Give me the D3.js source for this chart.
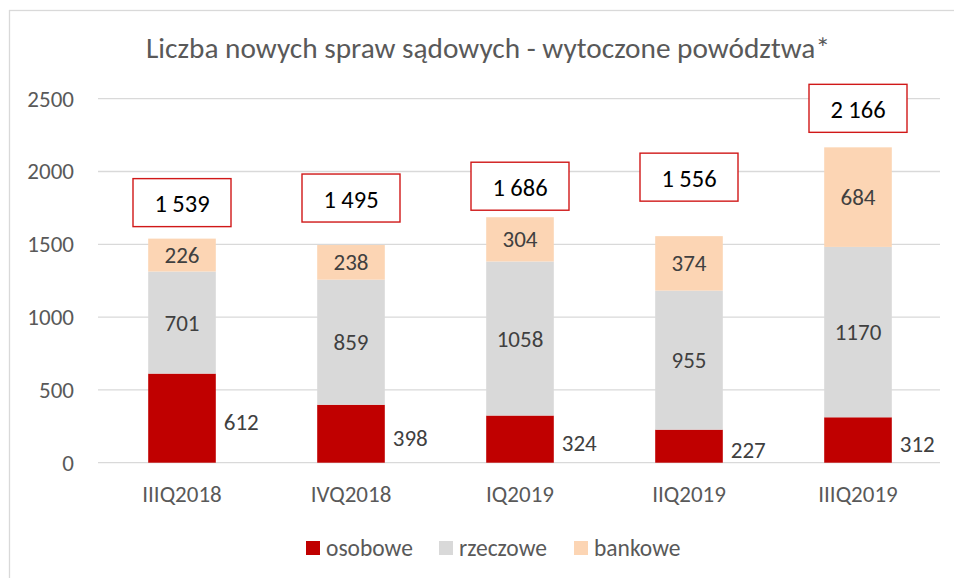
<!DOCTYPE html>
<html>
<head>
<meta charset="utf-8">
<style>
  body { margin: 0; background: #fff; }
  svg { display: block; font-family: Carlito, Calibri, Lato, sans-serif; }
</style>
<title>Liczba nowych spraw sądowych</title>
</head>
<body>
<script src="https://cdn.jsdelivr.net/npm/d3@7"></script>
<script>

var quarters = ["IIIQ2018", "IVQ2018", "IQ2019", "IIQ2019", "IIIQ2019"];
var osobowe = [612, 398, 324, 227, 312];
var rzeczowe = [701, 859, 1058, 955, 1170];
var bankowe = [226, 238, 304, 374, 684];
var totals = [1539, 1495, 1686, 1556, 2166];
var totalLabels = ["1 539", "1 495", "1 686", "1 556", "2 166"];
var yTicks = [0, 500, 1000, 1500, 2000, 2500];
var seriesNames = ["osobowe", "rzeczowe", "bankowe"];

// gap between top of bar and the red total box (boxes were placed by hand)
var boxGap = [12, 23, 7, 35, 15];

var width = 954, height = 578;
var colors = { osobowe: "#C00000", rzeczowe: "#D9D9D9", bankowe: "#FCD5B4" };

var svg = d3.select("body").append("svg")
    .attr("width", width)
    .attr("height", height);

// chart area border (only left / top visible)
svg.append("rect")
    .attr("x", 9.5).attr("y", 10.5)
    .attr("width", 980).attr("height", 600)
    .attr("fill", "none")
    .attr("stroke", "#D9D9D9")
    .attr("stroke-width", 1.3);

svg.append("text")
    .attr("x", 488).attr("y", 58)
    .attr("text-anchor", "middle")
    .attr("fill", "#595959")
    .style("font-size", "29.3px")
    .text("Liczba nowych spraw sądowych - wytoczone powództwa*");

var x = d3.scaleBand().domain(quarters).range([97.5, 942.5]).paddingInner(0.6).paddingOuter(0.3);
var y = d3.scaleLinear().domain([0, 2500]).range([462.7, 98.7]);

// gridlines
svg.append("g").selectAll("line")
    .data(yTicks)
    .enter().append("line")
    .attr("x1", 98).attr("x2", 940)
    .attr("y1", function(d) { return y(d); })
    .attr("y2", function(d) { return y(d); })
    .attr("stroke", "#D9D9D9")
    .attr("stroke-width", 1.3);

// y axis labels
var yAxis = svg.append("g")
    .attr("transform", "translate(88,0)")
    .call(d3.axisLeft(y).tickValues(yTicks).tickSize(0).tickPadding(14).tickFormat(d3.format("d")));
yAxis.select(".domain").remove();
yAxis.selectAll("text")
    .attr("fill", "#595959")
    .style("font-family", "Carlito, Calibri, Lato, sans-serif")
    .style("font-size", "23px");

// x axis labels
var xAxis = svg.append("g")
    .attr("transform", "translate(0," + y(0) + ")")
    .call(d3.axisBottom(x).tickSize(0).tickPadding(23));
xAxis.select(".domain").remove();
xAxis.selectAll("text")
    .attr("fill", "#595959")
    .style("font-family", "Carlito, Calibri, Lato, sans-serif")
    .style("font-size", "23px");

// stacked data
var rows = quarters.map(function(q, i) {
    return { q: q, osobowe: osobowe[i], rzeczowe: rzeczowe[i], bankowe: bankowe[i] };
});
var stack = d3.stack().keys(seriesNames)(rows);

var layers = svg.append("g").selectAll("g")
    .data(stack)
    .enter().append("g")
    .attr("fill", function(d) { return colors[d.key]; });

layers.selectAll("rect")
    .data(function(d) { return d; })
    .enter().append("rect")
    .attr("x", function(d) { return x(d.data.q); })
    .attr("width", x.bandwidth())
    .attr("y", function(d) { return y(d[1]); })
    .attr("height", function(d) { return y(d[0]) - y(d[1]); });

// segment labels
layers.each(function(layer) {
    d3.select(this).selectAll("text")
        .data(layer)
        .enter().append("text")
        .attr("x", function(d) {
            if (layer.key == "osobowe") return x(d.data.q) + x.bandwidth() + 8;
            return x(d.data.q) + x.bandwidth() / 2;
        })
        .attr("y", function(d) {
            var mid = (y(d[0]) + y(d[1])) / 2;
            return layer.key == "osobowe" ? mid + 4 : mid;
        })
        .attr("dy", "0.35em")
        .attr("text-anchor", layer.key == "osobowe" ? "start" : "middle")
        .attr("fill", "#404040")
        .style("font-size", "23px")
        .text(function(d) { return d.data[layer.key]; });
});

// total boxes
var boxW = 98, boxH = 48;
var boxes = svg.append("g").selectAll("g")
    .data(quarters)
    .enter().append("g")
    .attr("transform", function(d, i) {
        var cx = x(d) + x.bandwidth() / 2;
        var bottom = y(totals[i]) - boxGap[i];
        return "translate(" + (cx - boxW / 2) + "," + (bottom - boxH) + ")";
    });

boxes.append("rect")
    .attr("width", boxW).attr("height", boxH)
    .attr("fill", "#fff")
    .attr("stroke", "#D01818")
    .attr("stroke-width", 1.4);

boxes.append("text")
    .attr("x", boxW / 2).attr("y", boxH / 2 + 1)
    .attr("dy", "0.35em")
    .attr("text-anchor", "middle")
    .attr("fill", "#000")
    .style("font-size", "24.5px")
    .text(function(d, i) { return totalLabels[i]; });

// legend
var legendX = [306, 439, 574];
var legend = svg.append("g").selectAll("g")
    .data(seriesNames)
    .enter().append("g")
    .attr("transform", function(d, i) { return "translate(" + legendX[i] + ",541)"; });

legend.append("rect")
    .attr("width", 14).attr("height", 14)
    .attr("fill", function(d) { return colors[d]; });

legend.append("text")
    .attr("x", 20).attr("y", 7)
    .attr("dy", "0.35em")
    .attr("fill", "#595959")
    .style("font-size", "23.5px")
    .text(function(d) { return d; });

</script>
</body>
</html>
